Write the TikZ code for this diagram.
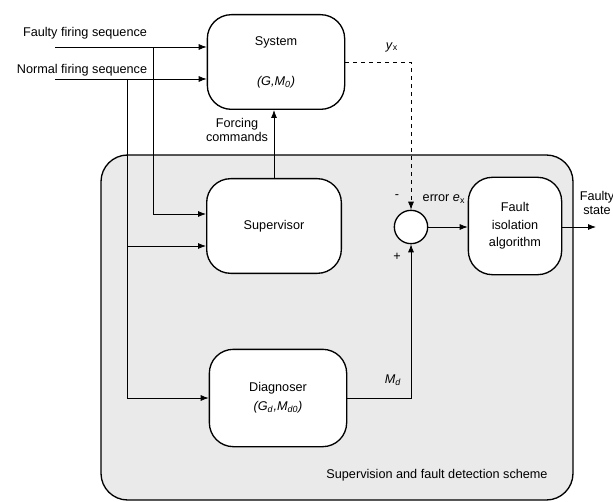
\documentclass[tikz,border=0pt]{standalone}
\usepackage{fontspec}
\setmainfont{Liberation Sans}
\definecolor{SchemeGray}{RGB}{234,234,234}
\usetikzlibrary{arrows.meta,positioning,calc}

\begin{document}
\begin{tikzpicture}[x=0.75pt,y=-0.75pt,font=\fontsize{9.5}{11}\selectfont,
  blk/.style={draw,line width=1pt,rounded corners=18pt,fill=white,align=center,inner sep=0pt},
  sumnode/.style={draw,line width=1pt,circle,fill=white,minimum size=25pt,inner sep=0pt},
  sig/.style={line width=0.6pt,-{Latex[length=6pt,width=4.5pt]}}]
\useasboundingbox (0,0) rectangle (613,502);
% Supervision and fault detection scheme
\draw[line width=1pt,rounded corners=20pt,fill=SchemeGray] (101,155) rectangle (573,500);
\node (schemelbl) at (437,475) {Supervision and fault detection scheme};
% blocks
\node[blk,minimum width=103pt,minimum height=71pt] (sys) at (276,62)
  {System\\[19pt]\textit{(G,M}\textsubscript{\textit{0}}\textit{)}};
\node[blk,minimum width=101pt,minimum height=71pt] (sup) at (274,226) {Supervisor};
\node[blk,minimum width=103pt,minimum height=73pt] (diag) at (278,398)
  {Diagnoser\\[3pt]\textit{(G}\textsubscript{\textit{d}}\textit{,M}\textsubscript{\textit{d0}}\textit{)}};
\node[blk,minimum width=70pt,minimum height=73pt] (fault) at (515,226)
  {Fault\\[2pt]isolation\\[2pt]algorithm};
\node[sumnode] (sum) at (411,227) {};
% inputs
\node (faultylbl) at (85,33) {Faulty firing sequence};
\node (normallbl) at (82,70) {Normal firing sequence};
\coordinate (ff) at (55,47);
\coordinate (nf) at (55,79);
\coordinate (fb) at (153,47);
\coordinate (nb) at (127,79);
\coordinate (nb2) at (127,246);
\draw[sig] (ff) -- (sys.west |- ff);
\draw[sig] (nf) -- (sys.west |- nf);
\draw[sig] (fb) |- ($(sup.west)+(0,-12)$);
\draw[sig] (nb) |- (diag.west);
\draw[sig] (nb2) -- (sup.west |- nb2);
% forcing commands
\draw[sig] (sup.north) -- (sup.north |- sys.south);
\node[align=center] (forcelbl) at (237,130) {Forcing\\commands};
% output y_x and error
\draw[sig,dashed] (sys.east) -| (sum.north);
\node (yxlbl) at (392,47) {\textit{y}\textsubscript{x}};
\draw[sig] (diag.east) -| (sum.south);
\node (mdlbl) at (393,380) {\textit{M}\textsubscript{\textit{d}}};
\node (minuslbl) at (397,197) {-};
\node (pluslbl) at (397,257) {+};
\node[anchor=west] (errlbl) at (418,199) {error \textit{e}\textsubscript{x}};
\draw[sig] (sum.east) -- (sum.east -| fault.west);
% faulty state
\coordinate (out) at (596,227);
\draw[sig] (fault.east |- out) -- (out);
\node[align=center] (statelbl) at (597,203) {Faulty\\state};
\end{tikzpicture}
\end{document}
